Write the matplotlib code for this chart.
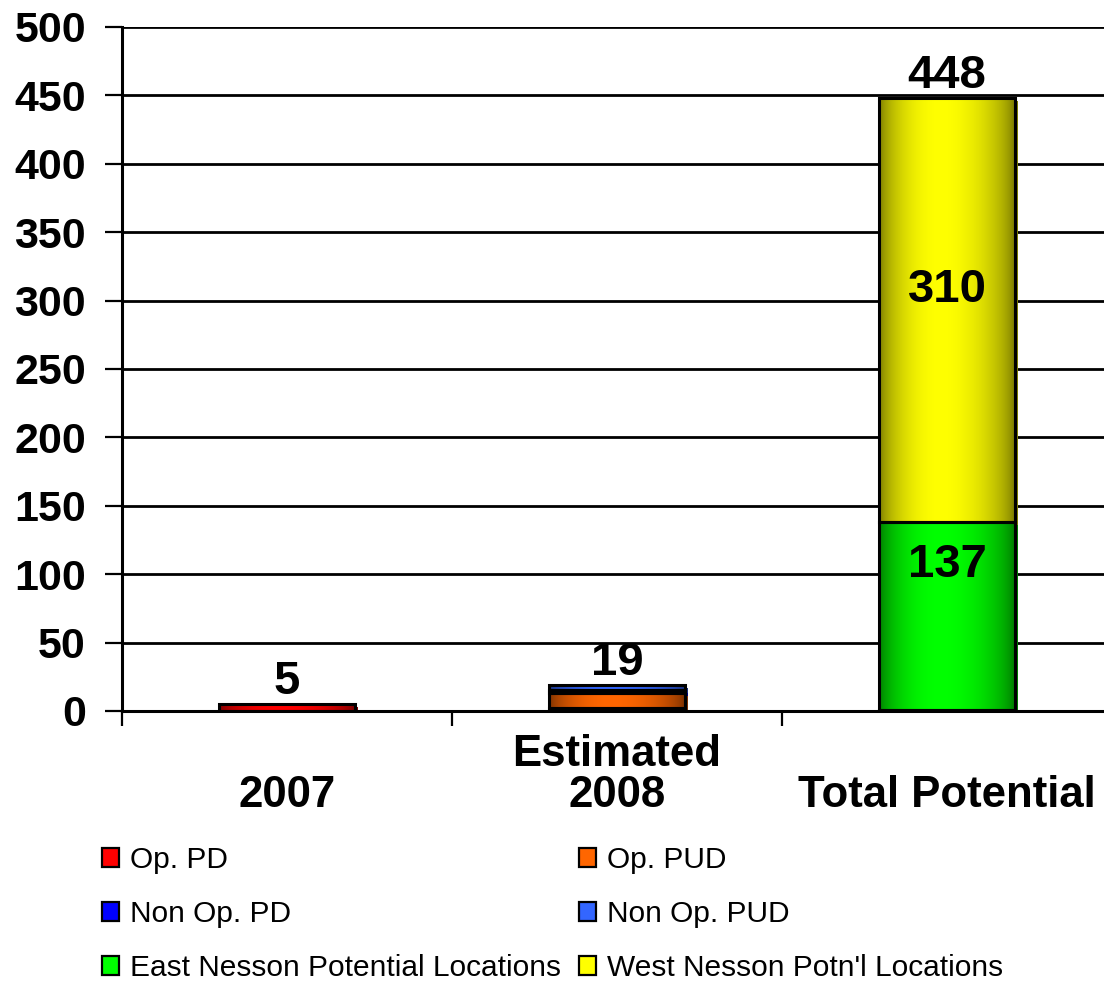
import numpy as np
import matplotlib
matplotlib.use("Agg")
import matplotlib.pyplot as plt
import matplotlib.transforms as mtransforms
from matplotlib.patches import Patch, Rectangle

plt.rcParams['font.family'] = ['Liberation Sans', 'DejaVu Sans']

# ---- data -------------------------------------------------------------
categories = ["2007", "Estimated\n2008", "Total Potential"]
op_pd = [5, 2, 1]
op_pud = [0, 11, 0]
non_op_pd = [0, 2, 0]
non_op_pud = [0, 4, 0]
east_nesson = [0, 0, 137]
west_nesson = [0, 0, 310]
bar_totals = [5, 19, 448]

series_names = ["Op. PD", "Op. PUD", "Non Op. PD", "Non Op. PUD",
                "East Nesson Potential Locations", "West Nesson Potn'l Locations"]
series_values = [op_pd, op_pud, non_op_pd, non_op_pud, east_nesson, west_nesson]
series_colors = ["#ff0000", "#ff6600", "#0000ff", "#3366ff", "#00ff00", "#ffff00"]
# segments that carry their own value label: (series index, category index, label position as fraction of segment)
segment_labels = [(4, 2, 0.80), (5, 2, 0.56)]

y_ticks = list(range(0, 501, 50))

# ---- figure ------------------------------------------------------------
W, H, DPI = 1104, 981, 100
fig = plt.figure(figsize=(W / DPI, H / DPI), dpi=DPI)
ax = fig.add_axes([122 / W, 1 - 711 / H, 982 / W, 684 / H])

x = np.arange(len(categories))
bar_w = 0.41


def shaded(rgb_hex, n=200, dark=0.45, peak=0.45):
    """Horizontal cylinder-like shading: dark at both edges, bright near the middle."""
    rgb = np.array(matplotlib.colors.to_rgb(rgb_hex))
    t = np.linspace(0, 1, n)
    prof = np.where(t < peak,
                    np.sin(0.5 * np.pi * t / peak),
                    np.sin(0.5 * np.pi * (1 - t) / (1 - peak)))
    prof = np.clip(prof, 0, 1) ** 0.6
    f = dark + (1 - dark) * prof
    return np.clip(rgb[None, None, :] * f[None, :, None], 0, 1)


shadow_shift = mtransforms.ScaledTranslation(3.5 / DPI, -3.0 / DPI, fig.dpi_scale_trans)
bottoms = np.zeros(len(categories))
seg_bottoms = {}
for si, (vals, col) in enumerate(zip(series_values, series_colors)):
    vals = np.asarray(vals, dtype=float)
    for ci in range(len(categories)):
        v = vals[ci]
        if v <= 0:
            continue
        b = bottoms[ci]
        seg_bottoms[(si, ci)] = b
        rect = ax.bar(x[ci], v, width=bar_w, bottom=b, facecolor='none',
                      edgecolor='black', linewidth=2.2, zorder=5)[0]
        rx, ry = rect.get_x(), rect.get_y()
        rw, rh = rect.get_width(), rect.get_height()
        # offset shadow in a darker tone of the fill
        sh = Rectangle((rx, ry), rw, rh,
                       facecolor=np.array(matplotlib.colors.to_rgb(col)) * 0.5,
                       edgecolor='none', transform=ax.transData + shadow_shift, zorder=3)
        ax.add_patch(sh)
        clip = Rectangle((rx, ry), rw, rh, transform=ax.transData,
                         facecolor='none', edgecolor='none')
        ax.add_patch(clip)
        im = ax.imshow(shaded(col), extent=[rx, rx + rw, ry, ry + rh], aspect='auto',
                       interpolation='bilinear', zorder=4)
        im.set_clip_path(clip)
    bottoms += vals

ax.set_xlim(-0.5, -0.5 + 982 / 330)
ax.set_ylim(0, 500)

# grid and axes
ax.set_yticks(y_ticks)
ax.set_yticklabels([str(v) for v in y_ticks], fontsize=31, fontweight='bold')
ax.yaxis.grid(True, color='black', linewidth=2.0, zorder=1)
ax.set_axisbelow(True)
ax.tick_params(axis='y', direction='out', length=12, width=1.6, pad=14)
ax.set_xticks([-0.5, 0.5, 1.5])
ax.set_xticklabels([])
ax.tick_params(axis='x', direction='out', length=11, width=1.6)
for s in ['top', 'right']:
    ax.spines[s].set_visible(False)
for s in ['left', 'bottom']:
    ax.spines[s].set_linewidth(2.2)
ax.spines['left'].set_zorder(6)
ax.spines['bottom'].set_zorder(6)

# category labels below the axis
lbl_tr = mtransforms.blended_transform_factory(ax.transData, ax.transAxes) + \
    mtransforms.ScaledTranslation(0, -1.05, fig.dpi_scale_trans)
for ci, cat in enumerate(categories):
    ax.text(x[ci], 0, cat, transform=lbl_tr, ha='center', va='bottom',
            fontsize=31.5, fontweight='bold', linespacing=1.0)

# totals on top of each bar
for ci, tot in enumerate(bar_totals):
    ax.annotate(str(tot), (x[ci], tot), xytext=(0, 0), textcoords='offset points',
                ha='center', va='bottom', fontsize=34, fontweight='bold', zorder=7)

# values inside the large segments
for si, ci, frac in segment_labels:
    v = series_values[si][ci]
    ax.text(x[ci], seg_bottoms[(si, ci)] + frac * v, str(v), ha='center',
            va='center_baseline', fontsize=34, fontweight='bold', zorder=7)

# legend
handles = [Patch(facecolor=c, edgecolor='black', linewidth=1.6, label=n)
           for n, c in zip(series_names, series_colors)]
order = [0, 2, 4, 1, 3, 5]
fig.legend([handles[i] for i in order], [series_names[i] for i in order],
           loc='upper left', bbox_to_anchor=(102 / W, 1 - 846 / H), ncol=2,
           frameon=False, fontsize=21.5, handlelength=0.57, handleheight=0.63,
           handletextpad=0.37, columnspacing=0.6, labelspacing=0.87, borderpad=0,
           borderaxespad=0)

fig.savefig("out.png", dpi=DPI)
